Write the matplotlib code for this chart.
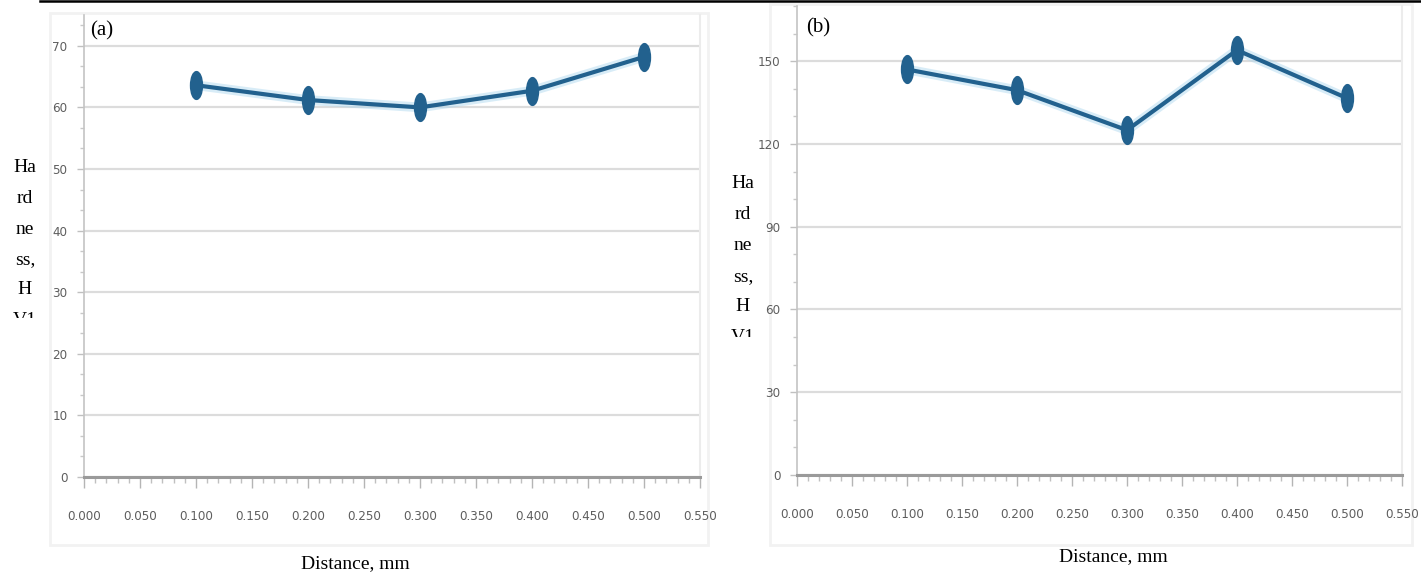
import matplotlib
matplotlib.use("Agg")
import matplotlib.pyplot as plt
import numpy as np
from matplotlib.path import Path
from matplotlib.ticker import MultipleLocator, AutoMinorLocator, FormatStrFormatter
from matplotlib.patches import Rectangle
from matplotlib.lines import Line2D

# ---- data ----
distance = [0.1, 0.2, 0.3, 0.4, 0.5]
hardness_a = [63.6, 61.2, 60.0, 62.7, 68.2]
hardness_b = [147.0, 139.5, 125.0, 154.0, 136.6]
panel_labels = ["(a)", "(b)"]
xlabel = "Distance, mm"
ylabel_lines = ["Ha", "rd", "ne", "ss,", "H", "V1"]

W, H = 1421, 584
fig = plt.figure(figsize=(W / 100, H / 100), dpi=100)

def fx(px):
    return px / W

def fy(py):
    return 1 - py / H

# ellipse marker (tall)
circ = Path.unit_circle()
ell = Path(circ.vertices * np.array([0.43, 1.0]), circ.codes)

line_col = "#22618e"
grid_col = "#dcdcdc"
tick_lab_col = "#5e5e5e"

def style_ticklabels(ax):
    for t in ax.get_xticklabels() + ax.get_yticklabels():
        t.set_fontfamily(["DejaVu Sans"])
        t.set_fontstretch("condensed")
        t.set_fontsize(9.5)

def make_panel(left, right, bottom, top, ymax, ystep, values, label, label_xy):
    ax = fig.add_axes([fx(left), fy(bottom), fx(right - left), fy(top) - fy(bottom)])
    ax.set_xlim(0, 0.55)
    ax.set_ylim(0, ymax)
    ax.xaxis.set_major_locator(MultipleLocator(0.05))
    ax.xaxis.set_minor_locator(MultipleLocator(0.01))
    ax.xaxis.set_major_formatter(FormatStrFormatter("%.3f"))
    ax.yaxis.set_major_locator(MultipleLocator(ystep))
    ax.yaxis.set_minor_locator(AutoMinorLocator(3))
    ax.grid(axis="y", which="major", color=grid_col, lw=1.6)
    ax.set_axisbelow(True)
    ax.spines["top"].set_visible(False)
    ax.spines["right"].set_color("#ececec")
    ax.spines["right"].set_lw(1.5)
    ax.spines["left"].set_color("#c4c4c4")
    ax.spines["left"].set_lw(1.2)
    ax.spines["bottom"].set_color("#9a9a9a")
    ax.spines["bottom"].set_lw(2.2)
    ax.tick_params(axis="x", which="major", length=8, width=1, color="#b5b5b5",
                   pad=16, labelcolor=tick_lab_col)
    ax.tick_params(axis="x", which="minor", length=4, width=1, color="#c0c0c0")
    ax.tick_params(axis="y", which="major", length=5, width=1, color="#c0c0c0",
                   pad=7, labelcolor=tick_lab_col)
    ax.tick_params(axis="y", which="minor", length=3, width=1, color="#c8c8c8")
    style_ticklabels(ax)
    ax.plot(distance, values, color="#a9d6ee", lw=7, alpha=0.45, solid_capstyle="round", zorder=2)
    ax.plot(distance, values, color=line_col, lw=3, marker=ell, markersize=20,
            markerfacecolor=line_col, markeredgecolor=line_col, zorder=3)
    fig.text(fx(label_xy[0]), fy(label_xy[1]), label, family="Liberation Serif",
             fontsize=15, ha="center", va="center")
    return ax

# chart frames (light gray), drawn underneath everything
for (x0, y0, x1, y1) in [(50, 13, 708, 545), (770, 4, 1412, 545)]:
    fig.patches.append(Rectangle((fx(x0), fy(y1)), fx(x1 - x0), fy(y0) - fy(y1),
                                 transform=fig.transFigure, fill=False,
                                 edgecolor="#f2f2f2", lw=2, zorder=-5))

ax1 = make_panel(84, 700, 477, 15, 75, 10, hardness_a, panel_labels[0], (102, 31))
ax2 = make_panel(797, 1402, 475, 6, 170, 30, hardness_b, panel_labels[1], (818, 28))

# x labels
fig.text(fx(355), fy(564), xlabel, family="Liberation Serif", fontsize=14,
         ha="center", va="center")
fig.text(fx(1113), fy(557), xlabel, family="Liberation Serif", fontsize=14,
         ha="center", va="center")

# wrapped, clipped y labels
def ylabel_col(xc, y_first, spacing, clip_y):
    clip = Rectangle((0, fy(clip_y)), 1, 1, transform=fig.transFigure,
                     fill=False, visible=False)
    fig.patches.append(clip)
    for i, s in enumerate(ylabel_lines):
        t = fig.text(fx(xc), fy(y_first + i * spacing), s, family="Liberation Serif",
                     fontsize=14, ha="center", va="center")
        t.set_clip_path(clip)
        t.set_clip_on(True)

ylabel_col(25, 168, 30.5, 318)
ylabel_col(743, 184, 30.7, 337)

# top black rule
fig.lines.append(Line2D([fx(40), 1], [fy(1), fy(1)], transform=fig.transFigure,
                        color="black", lw=1.8))

fig.savefig("out.png", dpi=100)
